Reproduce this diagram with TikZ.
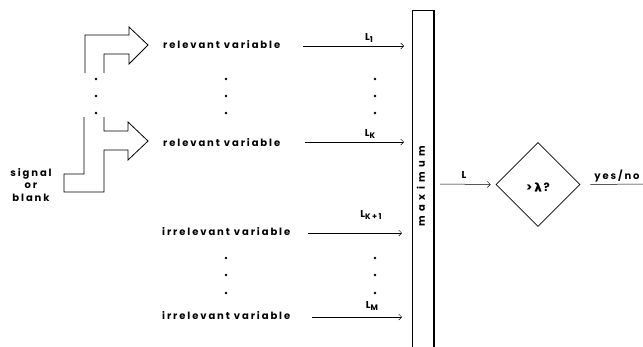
\documentclass[tikz,border=0pt]{standalone}
\usepackage{fontspec}
\setmainfont{Poppins}[LetterSpace=19]
\newfontfamily\lamfont{DejaVu Sans}[FakeBold=1.5]
\usetikzlibrary{arrows.meta,shapes.geometric}
\newcommand{\lsub}[1]{\raisebox{-2.4pt}{\fontsize{8}{8}\selectfont #1}}
\tikzset{
  lbl/.style={font=\fontsize{10}{12.5}\selectfont\bfseries, inner sep=0pt},
  conn/.style={line width=0.5pt, -{Straight Barb[length=3pt,width=6pt]}},
  plain/.style={line width=0.5pt},
  outline/.style={line width=0.8pt, line join=miter},
  dotc/.style={fill=black, circle, inner sep=0pt, minimum size=2.6pt},
}
\begin{document}
\begin{tikzpicture}[x=1pt,y=-1pt]
\useasboundingbox (0,0) rectangle (643,346);
% L-shaped arrows
\draw[outline] (85,73) -- (85,35) -- (129,35) -- (129,27) -- (148,45) -- (129,64) -- (129,54) -- (104,54) -- (104,73);
\draw[outline] (104,117) -- (104,131) -- (128,131) -- (128,122) -- (148,141) -- (128,160) -- (128,150) -- (104,150) -- (104,192) -- (64,192) -- (64,174) -- (84,174) -- (84,117);
\foreach \y in {79,96,113} \node[dotc] at (96,\y) {};
\node[lbl, align=center] (sig) at (31,185) {signal\\or\\blank};
% variables
\node[lbl, anchor=west] (r1) at (163,45) {relevant variable};
\node[lbl, anchor=west] (r2) at (163,143) {relevant variable};
\node[lbl, anchor=west] (i1) at (162,232) {irrelevant variable};
\node[lbl, anchor=west] (i2) at (162,316) {irrelevant variable};
\foreach \y in {79,96,113,258,275,293} {\node[dotc] at (226,\y) {}; \node[dotc] at (375,\y) {};}
% box
\coordinate (bl) at (412,10);
\coordinate (br) at (434,10);
\draw[plain] (412,350) -- (bl) -- (br);
\draw[line width=1.4pt] (br) -- (434,350);
\node[lbl, rotate=90, font=\fontsize{10}{12.5}\selectfont\bfseries\addfontfeatures{LetterSpace=45}] (max) at (421,186) {maximum};
% arrows to box
\coordinate (s1) at (303,46); \coordinate (e1) at (404,46);
\coordinate (s2) at (305,142); \coordinate (e2) at (404,142);
\coordinate (s3) at (308,233); \coordinate (e3) at (402,233);
\coordinate (s4) at (312,317); \coordinate (e4) at (402,317);
\draw[conn] (s1) -- (e1);
\draw[conn] (s2) -- (e2);
\draw[conn] (s3) -- (e3);
\draw[conn] (s4) -- (e4);
\node[lbl] (l1) at (369,38) {L\lsub{1}};
\node[lbl] (lk) at (370,134) {L\lsub{K}};
\node[lbl] (lk1) at (371,215) {L\lsub{K+1}};
\node[lbl] (lm) at (372,306) {L\lsub{M}};
% decision
\node[draw, line width=0.6pt, diamond, shape aspect=1, minimum size=84pt, inner sep=0pt] (dec) at (538,184.5) {};
\node[lbl, font=\fontsize{11.5}{13}\selectfont\bfseries] (q) at (538,187) {>\,\lamfont λ\,\rmfamily\bfseries ?};
\coordinate (sl) at (440,184);
\draw[conn] (sl) -- ([xshift=-5pt]dec.west);
\node[lbl] (ll) at (464,175) {L};
\coordinate (yn) at (643,184);
\draw[plain] ([xshift=10pt]dec.east) -- (yn);
\node[lbl] (yes) at (617,176) {yes/no};
\end{tikzpicture}
\end{document}
